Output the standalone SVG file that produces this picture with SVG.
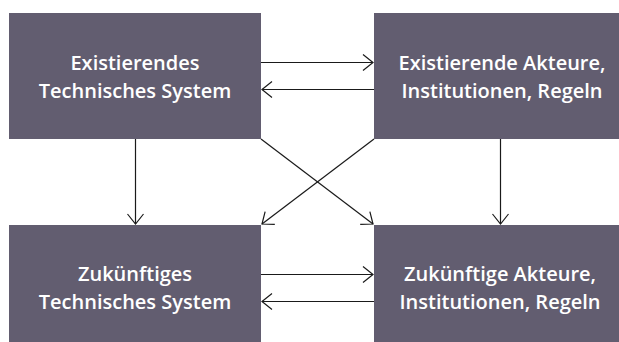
<svg xmlns="http://www.w3.org/2000/svg" width="619" height="342" viewBox="0 0 619 342">
<defs>
<style>
.box{fill:#625d70}
.lbl{fill:#ffffff;font-family:"Open Sans","Noto Sans","Liberation Sans",sans-serif;font-size:20px;font-weight:600;text-anchor:middle}
.con{stroke:#1a1a1a;stroke-width:1.2;fill:none;marker-end:url(#ah)}
</style>
<marker id="ah" viewBox="0 0 12 18" refX="11" refY="9" markerWidth="12" markerHeight="18" markerUnits="userSpaceOnUse" orient="auto">
<path d="M1,1 L11,9 L1,17" fill="none" stroke="#1a1a1a" stroke-width="1.2"/>
</marker>
</defs>
<rect width="619" height="342" fill="#ffffff"/>
<g id="node-existing-tech">
<rect class="box" x="9" y="13" width="252" height="126"/>
<text class="lbl" x="135" y="70">Existierendes</text>
<text class="lbl" x="135" y="98">Technisches System</text>
</g>
<g id="node-existing-actors">
<rect class="box" x="374" y="13" width="245" height="126"/>
<text class="lbl" x="502" y="70">Existierende Akteure,</text>
<text class="lbl" x="502" y="98">Institutionen, Regeln</text>
</g>
<g id="node-future-tech">
<rect class="box" x="9" y="225" width="252" height="126"/>
<text class="lbl" x="135" y="281">Zukünftiges</text>
<text class="lbl" x="135" y="309">Technisches System</text>
</g>
<g id="node-future-actors">
<rect class="box" x="374" y="225" width="245" height="126"/>
<text class="lbl" x="500" y="281">Zukünftige Akteure,</text>
<text class="lbl" x="500" y="309">Institutionen, Regeln</text>
</g>
<g id="connectors">
<line class="con" x1="261" y1="62.5" x2="373" y2="62.5"/>
<line class="con" x1="374" y1="89.5" x2="262" y2="89.5"/>
<line class="con" x1="261" y1="274.5" x2="373" y2="274.5"/>
<line class="con" x1="374" y1="301.5" x2="262" y2="301.5"/>
<line class="con" x1="135.5" y1="139" x2="135.5" y2="224"/>
<line class="con" x1="500.5" y1="139" x2="500.5" y2="224"/>
<line class="con" x1="261" y1="139" x2="373" y2="224"/>
<line class="con" x1="374" y1="139" x2="262" y2="224"/>
</g>
</svg>
